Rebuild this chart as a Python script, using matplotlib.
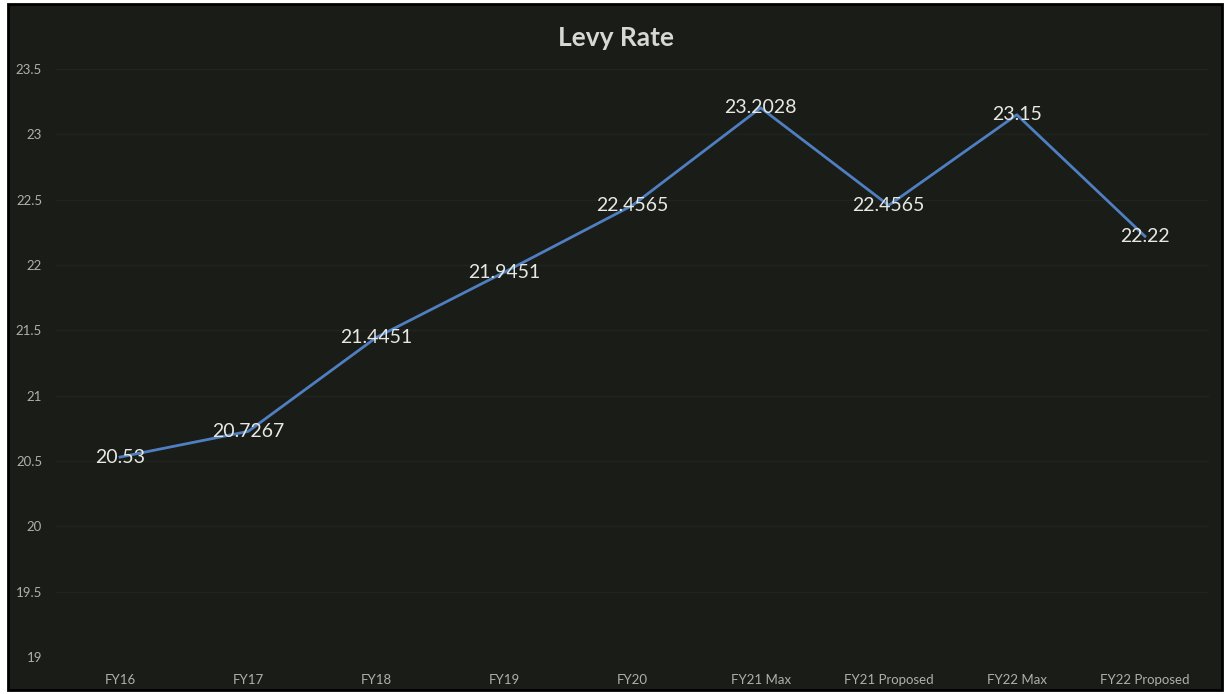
import matplotlib.pyplot as plt
from matplotlib.patches import Rectangle

# Données du graphique
categories = ["FY16", "FY17", "FY18", "FY19", "FY20", "FY21 Max",
              "FY21 Proposed", "FY22 Max", "FY22 Proposed"]
taux = [20.53, 20.7267, 21.4451, 21.9451, 22.4565, 23.2028, 22.4565, 23.15, 22.22]
etiquettes = ["20.53", "20.7267", "21.4451", "21.9451", "22.4565", "23.2028",
              "22.4565", "23.15", "22.22"]
graduations_y = [19, 19.5, 20, 20.5, 21, 21.5, 22, 22.5, 23, 23.5]

plt.rcParams['font.family'] = ['Lato', 'DejaVu Sans']

fond = "#1a1c17"
W, H = 1226, 694
fig = plt.figure(figsize=(W / 100, H / 100), dpi=100, facecolor="white")

# Zone sombre avec bordure noire
fig.patches.append(Rectangle((8 / W, 4 / H), 1214 / W, 686 / H, transform=fig.transFigure,
                             facecolor=fond, edgecolor="black", linewidth=2, zorder=-10))

ax = fig.add_axes([56 / W, 37 / H, 1153 / W, 588 / H])
ax.set_facecolor("none")
ax.set_zorder(1)

x = list(range(len(categories)))
ax.plot(x, taux, color="#4f7fc0", linewidth=2, zorder=3)

for xi, yi, txt in zip(x, taux, etiquettes):
    ax.text(xi, yi, txt, ha="center", va="center", color="#e8e8e2", fontsize=14, zorder=4)

ax.set_xlim(-0.5, len(categories) - 0.5)
ax.set_ylim(19, 23.5)
ax.set_xticks(x)
ax.set_xticklabels(categories)
ax.set_yticks(graduations_y)
ax.set_yticklabels([f"{v:g}" for v in graduations_y])
ax.tick_params(axis="both", length=0, colors="#b0b0a8", labelsize=9.5)
ax.tick_params(axis="x", pad=12)
ax.tick_params(axis="y", pad=10)

ax.grid(axis="y", color="#21231e", linewidth=1)
for s in ax.spines.values():
    s.set_visible(False)

fig.text(616 / W, 1 - 38 / H, "Levy Rate", ha="center", va="center",
         color="#d8d8d2", fontsize=19, fontweight="bold")

fig.savefig("out.png", dpi=100, facecolor="white")
